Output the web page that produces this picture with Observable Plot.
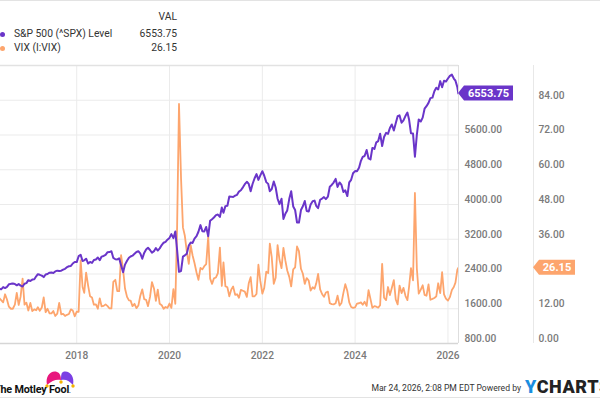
<!DOCTYPE html>
<html>
<head>
<meta charset="utf-8">
<script src="https://cdn.jsdelivr.net/npm/d3@7"></script>
<script src="https://cdn.jsdelivr.net/npm/@observablehq/plot@0.6"></script>
<style>
  html, body { margin: 0; padding: 0; background: #fff; }
  #wrap { position: relative; width: 600px; height: 400px; overflow: hidden; font-family: Roboto, "Noto Sans", sans-serif; }
  #chart { position: absolute; left: 0; top: 0; }
  .lg { position: absolute; font-size: 10.3px; color: #333; white-space: nowrap; line-height: 14px; }
  .dot { position: absolute; width: 5px; height: 5px; border-radius: 3px; }
</style>
</head>
<body>
<div id="wrap">
  <div id="chart"></div>
</div>
<script>
// ---- Data (semi-monthly readings: 1st and 16th of each month) ----
const startYear = 2016, startMonth = 4; // May 2016
const spx2016 = [2065, 2047, 2099, 2077, 2103, 2162, 2173, 2180, 2171, 2139, 2168, 2133, 2111, 2176, 2191, 2258];
const spx2017 = [2239, 2271, 2279, 2347, 2395, 2381, 2363, 2329, 2388, 2400, 2430, 2433, 2423, 2459, 2477, 2468, 2476, 2500, 2519, 2557, 2579, 2585, 2642, 2676];
const spx2018 = [2674, 2810, 2840, 2700, 2714, 2752, 2641, 2678, 2655, 2722, 2735, 2780, 2718, 2801, 2816, 2840, 2902, 2905, 2925, 2770, 2740, 2736, 2760, 2600];
const spx2019 = [2440, 2616, 2706, 2775, 2803, 2822, 2867, 2907, 2923, 2876, 2752, 2886, 2964, 3004, 2953, 2889, 2926, 2997, 2940, 2990, 3066, 3120, 3141, 3191];
const spx2020 = [3231, 3317, 3225, 3380, 2954, 2450, 2470, 2800, 2830, 2864, 3055, 3124, 3115, 3215, 3271, 3373, 3526, 3385, 3380, 3483, 3270, 3627, 3662, 3701];
const spx2021 = [3756, 3768, 3714, 3932, 3811, 3962, 3973, 4185, 4181, 4173, 4204, 4223, 4297, 4327, 4395, 4468, 4523, 4473, 4307, 4471, 4605, 4700, 4567, 4669];
const spx2022 = [4766, 4662, 4515, 4475, 4306, 4357, 4530, 4392, 4132, 4008, 4132, 3667, 3785, 3863, 4130, 4305, 3955, 3873, 3586, 3583, 3872, 3959, 4080, 3852];
const spx2023 = [3840, 3999, 4077, 4090, 3970, 3917, 4109, 4137, 4169, 4124, 4180, 4410, 4450, 4505, 4589, 4404, 4508, 4450, 4288, 4327, 4194, 4508, 4568, 4719];
const spx2024 = [4770, 4766, 4846, 5005, 5096, 5117, 5254, 5061, 5036, 5303, 5278, 5431, 5460, 5631, 5346, 5554, 5648, 5626, 5762, 5842, 5705, 5870, 6032, 6051];
const spx2025 = [5882, 5937, 6041, 6115, 5955, 5639, 5633, 5100, 5604, 5958, 5912, 6000, 6205, 6264, 6339, 6449, 6460, 6606, 6688, 6650, 6840, 6700, 6850, 6830];
const spx2026 = [6900, 6960, 6990, 6900, 6850, 6700];

const vix2016 = [15.7, 15.0, 14.2, 17.0, 15.2, 12.7, 12.0, 12.0, 13.4, 17.5, 13.3, 16.1, 22.4, 13.4, 14.1, 11.4];
const vix2017 = [14.0, 11.2, 11.8, 11.5, 12.5, 11.3, 12.4, 15.9, 10.8, 12.0, 10.4, 10.4, 11.2, 9.5, 10.3, 14.0, 10.1, 10.2, 9.5, 9.9, 10.2, 11.8, 11.4, 9.4];
const vix2018 = [11.0, 10.9, 28.7, 19.5, 17.5, 24.5, 19.9, 16.3, 15.9, 13.4, 13.5, 12.0, 15.6, 12.8, 13.0, 13.5, 12.9, 12.1, 12.1, 21.3, 22.0, 18.1, 18.1, 30.5];
const vix2019 = [25.4, 19.0, 16.1, 14.9, 14.8, 12.9, 13.7, 12.2, 13.1, 16.4, 18.7, 15.3, 15.1, 12.9, 16.1, 21.2, 19.0, 14.7, 18.6, 13.7, 13.2, 12.0, 12.6, 12.3];
const vix2020 = [13.8, 12.3, 18.8, 13.7, 40.1, 82.7, 57.1, 40.1, 37.2, 31.9, 27.5, 34.0, 30.4, 27.8, 24.5, 22.0, 26.1, 25.6, 26.7, 27.4, 37.0, 22.4, 20.6, 22.5];
const vix2021 = [22.8, 24.3, 33.1, 19.9, 28.0, 19.8, 19.4, 16.3, 18.6, 19.7, 16.8, 17.0, 15.8, 18.5, 18.2, 17.9, 16.1, 20.8, 22.9, 16.3, 16.3, 17.1, 27.2, 21.6];
const vix2022 = [17.2, 19.2, 24.8, 24.3, 34.5, 29.8, 20.6, 22.7, 34.0, 28.9, 26.0, 33.0, 28.7, 25.2, 23.0, 19.7, 25.6, 26.3, 33.5, 31.9, 25.8, 24.1, 20.6, 22.6];
const vix2023 = [21.7, 18.3, 19.4, 18.9, 20.7, 24.0, 18.7, 17.1, 16.1, 17.6, 17.9, 13.9, 13.6, 13.5, 13.9, 16.5, 13.1, 14.0, 17.5, 20.5, 18.1, 14.2, 12.6, 12.3];
const vix2024 = [12.5, 13.8, 13.9, 14.2, 13.4, 14.4, 13.0, 18.4, 15.4, 12.3, 12.9, 12.7, 12.4, 13.2, 27.5, 15.8, 15.0, 19.5, 16.7, 19.2, 21.9, 15.2, 13.5, 20.0];
const vix2025 = [17.4, 19.2, 16.4, 15.0, 19.6, 26.0, 21.8, 52.0, 26.0, 17.2, 18.6, 20.1, 16.8, 16.5, 20.4, 15.1, 15.4, 15.7, 16.3, 20.8, 17.4, 24.6, 17.0, 15.5];
const vix2026 = [14.8, 16.0, 18.5, 19.5, 21.0, 25.5];

const lastDate = "2026-03-24";
const spxLast = 6553.75;
const vixLast = 26.15;

const spxTicks = [800, 1600, 2400, 3200, 4000, 4800, 5600];
const spxGrid = [800, 1600, 2400, 3200, 4000, 4800, 5600, 6400, 7200];
const vixTicks = [0, 12, 36, 48, 60, 72, 84];
const yearTicks = [2018, 2020, 2022, 2024, 2026];

// ---- Build tables ----
function build(series) {
  const out = [];
  let k = 0;
  for (const v of series) {
    const m = startMonth + Math.floor(k / 2);
    const d = k % 2 === 0 ? 1 : 16;
    out.push({date: new Date(Date.UTC(startYear, m, d)), value: v});
    k++;
  }
  return out;
}
const spxAll = [].concat(spx2016, spx2017, spx2018, spx2019, spx2020, spx2021, spx2022, spx2023, spx2024, spx2025, spx2026);
const vixAll = [].concat(vix2016, vix2017, vix2018, vix2019, vix2020, vix2021, vix2022, vix2023, vix2024, vix2025, vix2026);
const spx = build(spxAll); spx.push({date: new Date(lastDate), value: spxLast});
const vix = build(vixAll); vix.push({date: new Date(lastDate), value: vixLast});

// VIX shares the frame with S&P: VIX 0..96 <-> S&P 800..7200
const toSpx = v => 800 + v * 800 / 12;
const fromSpx = s => (s - 800) * 12 / 800;

const PURPLE = "#6a35c9", ORANGE = "#fda56d";
const xDomain = [new Date(Date.UTC(2016, 4, 11)), new Date(Date.UTC(2026, 2, 25))];

const chart = Plot.plot({
  width: 600, height: 400,
  marginLeft: 0, marginRight: 142, marginTop: 65, marginBottom: 57,
  style: {fontFamily: "Roboto, sans-serif", fontSize: "10px", background: "transparent"},
  x: {type: "utc", domain: xDomain},
  y: {domain: [800, 7200]},
  marks: [
    Plot.ruleY(spxGrid, {stroke: "#ebebeb"}),
    Plot.ruleX(yearTicks.map(y => new Date(Date.UTC(y, 0, 1))), {stroke: "#ebebeb"}),
    Plot.ruleY([7200], {stroke: "#e2e2e2", strokeWidth: 1.5}),
    Plot.ruleX([xDomain[1]], {stroke: "#dedede"}),
    Plot.ruleX([xDomain[1]], {stroke: "#e8e8e8", dx: 75}),
    Plot.ruleY([800], {stroke: "#d6d6d6", strokeWidth: 1.5}),
    Plot.lineY(vix, {x: "date", y: d => toSpx(d.value), stroke: ORANGE, strokeWidth: 1.8, clip: true}),
    Plot.lineY(spx, {x: "date", y: "value", stroke: PURPLE, strokeWidth: 2, clip: true}),
    Plot.axisX(yearTicks.map(y => new Date(Date.UTC(y, 0, 1))), {tickSize: 0, tickPadding: 8, tickFormat: d3.utcFormat("%Y"), fill: "#7a7a7a", label: null, fontSize: 10.2, fontWeight: 500}),
    Plot.axisY(spxTicks, {anchor: "right", tickSize: 0, tickPadding: 6, dy: -5, tickFormat: d3.format(".2f"), fill: "#7a7a7a", label: null, fontSize: 10.2, fontWeight: 500}),
    Plot.axisY(vixTicks.map(toSpx), {anchor: "right", tickSize: 0, tickPadding: 6, dx: 74, dy: -5, tickFormat: d => fromSpx(d).toFixed(2), fill: "#7a7a7a", label: null, fontSize: 10.2, fontWeight: 500})
  ]
});
document.getElementById("chart").appendChild(chart);

// ---- Value badges (positions from the plot's scales) ----
const sy = chart.scale("y");
const svg = d3.select(chart);
function badge(x0, yv, w, color, label) {
  const y = sy.apply(yv);
  const g = svg.append("g");
  g.append("path")
    .attr("d", `M${x0},${y} L${x0 + 6},${y - 7.5} L${x0 + w},${y - 7.5} L${x0 + w},${y + 7.5} L${x0 + 6},${y + 7.5} Z`)
    .attr("fill", color);
  g.append("text").attr("x", x0 + 6 + (w - 6) / 2).attr("y", y).attr("dy", "0.36em")
    .attr("text-anchor", "middle").attr("fill", "#fff")
    .attr("font-family", "Roboto, sans-serif").attr("font-weight", "bold").attr("font-size", 11)
    .text(label);
}
badge(458, spxLast, 55, PURPLE, d3.format(".2f")(spxLast));
badge(533, toSpx(vixLast), 42, ORANGE, d3.format(".2f")(vixLast));

// ---- Legend, header and footer ----
const wrap = document.getElementById("wrap");
function addDiv(html, style, cls) {
  const d = document.createElement("div");
  if (cls) d.className = cls;
  d.innerHTML = html;
  Object.assign(d.style, style);
  wrap.appendChild(d);
  return d;
}
addDiv("", {position: "absolute", left: "0", top: "0", width: "600px", height: "1px", background: "#e3e3e3"});
addDiv("", {position: "absolute", left: "0", top: "397px", width: "600px", height: "1px", background: "#e3e3e3"});
addDiv("VAL", {left: "140px", width: "37px", textAlign: "right", top: "10px"}, "lg");
const legendRows = [
  {name: "S&amp;P 500 (^SPX) Level", value: d3.format(".2f")(spxLast), color: PURPLE, top: 27},
  {name: "VIX (I:VIX)", value: d3.format(".2f")(vixLast), color: ORANGE, top: 41}
];
for (const r of legendRows) {
  addDiv("", {left: "0px", top: (r.top + 5) + "px", background: r.color}, "dot");
  addDiv(r.name, {left: "14px", top: r.top + "px"}, "lg");
  addDiv(r.value, {left: "117px", width: "60px", textAlign: "right", top: r.top + "px"}, "lg");
}
// Footer: source logo and timestamp
addDiv(`<svg width="90" height="32" viewBox="0 0 90 32" style="position:absolute;left:0;top:0;overflow:visible">
  <path d="M47,17 C45,8 51,2 57,4 C60,5 61,8 61,12 C57,11 52,12 47,17 Z" fill="#e8177d"/>
  <path d="M73,17 C75,8 69,2 63,4 C61,5 61,8 61,12 C65,11 69,12 73,17 Z" fill="#7b3fe4"/>
  <circle cx="47" cy="18" r="1.7" fill="#f5b301"/><circle cx="61" cy="14" r="1.7" fill="#f5b301"/><circle cx="73" cy="18" r="1.7" fill="#f5b301"/>
</svg>
<div style="position:absolute;left:-6px;top:15px;font-size:10.8px;font-weight:bold;color:#111;letter-spacing:-0.2px;white-space:nowrap">The Motley Fool<span style="font-size:6px">.</span></div>`,
  {position: "absolute", left: "0px", top: "368px", width: "90px", height: "30px"});
addDiv(`Mar 24, 2026, 2:08 PM EDT Powered by`,
  {position: "absolute", left: "300px", width: "221px", textAlign: "right", top: "383px", fontSize: "8.6px", color: "#333", whiteSpace: "nowrap"});
addDiv(`<span style="color:#1a8ee0">Y</span><span style="color:#222">CHARTS</span>`,
  {position: "absolute", left: "525px", top: "376px", fontSize: "18px", fontWeight: "900", letterSpacing: "0.6px", whiteSpace: "nowrap"});
</script>
</body>
</html>
